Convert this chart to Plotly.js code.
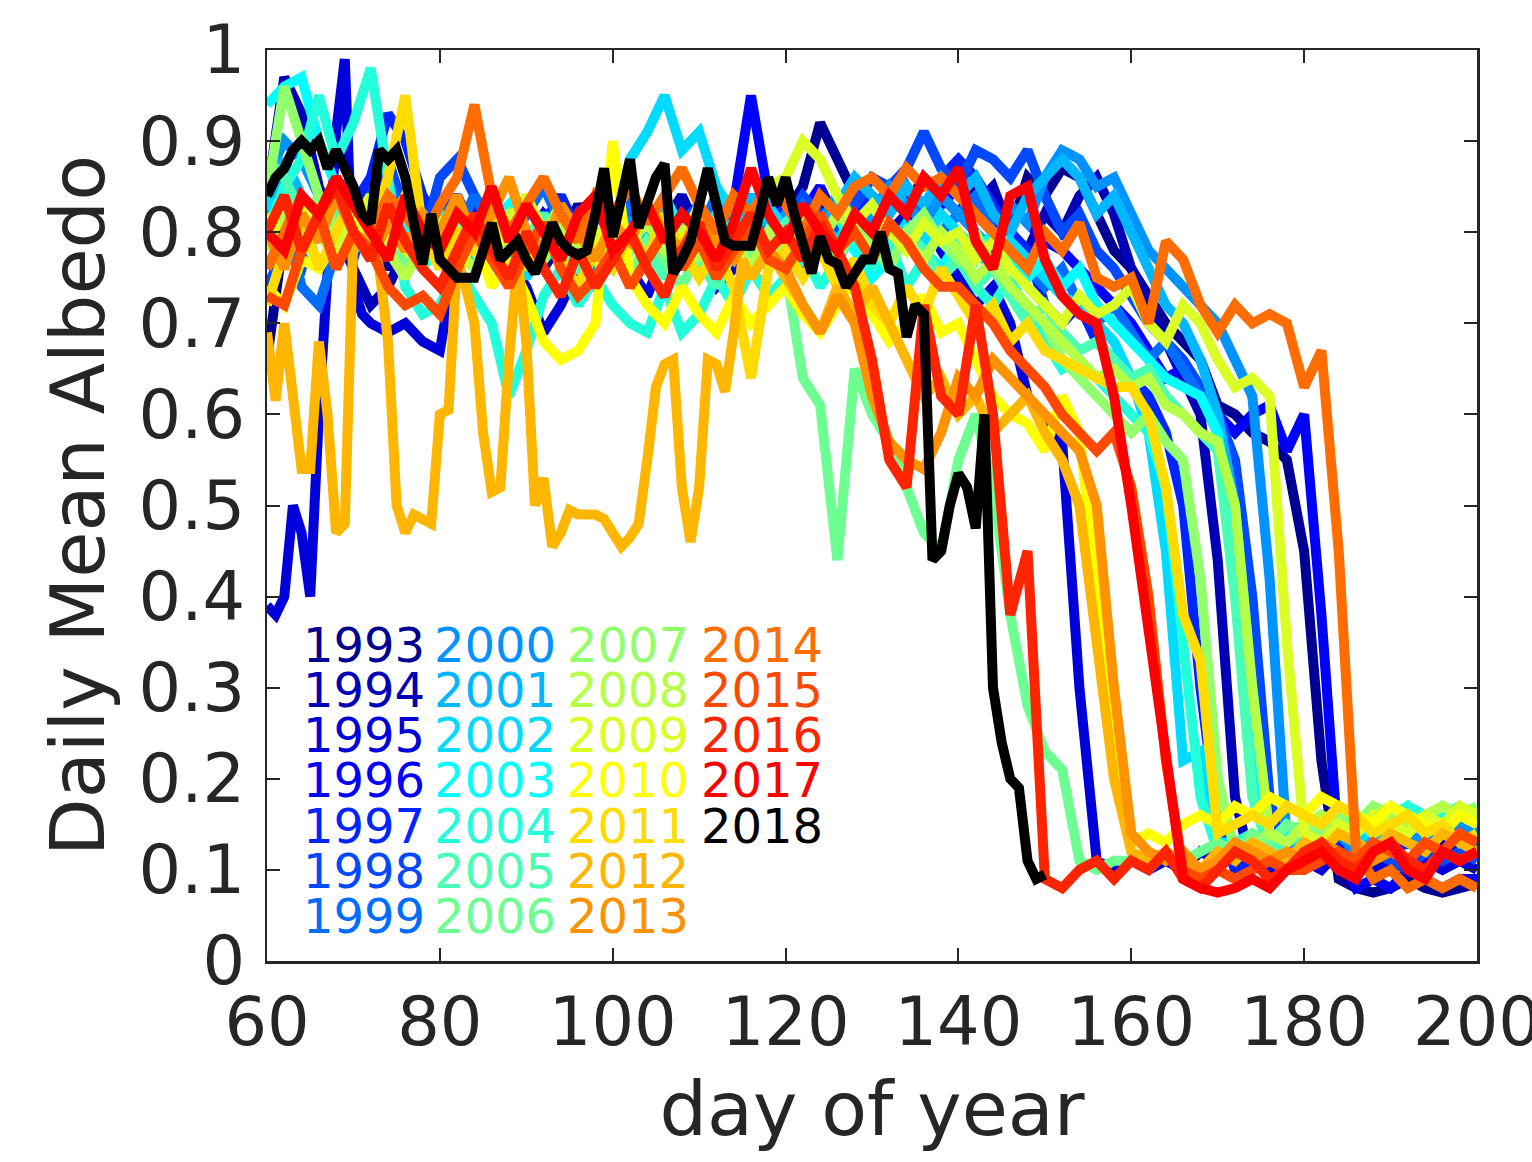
<!DOCTYPE html>
<html>
<head>
<meta charset="utf-8">
<script src="https://cdn.plot.ly/plotly-3.0.1.min.js"></script>
<style>
html,body{margin:0;padding:0;background:#fff;}
#chart{width:1532px;height:1162px;}
</style>
</head>
<body>
<div id="chart"></div>
<script>
// ---------- DATA ----------
const years = ["1993","1994","1995","1996","1997","1998","1999","2000","2001","2002","2003","2004","2005","2006","2007","2008","2009","2010","2011","2012","2013","2014","2015","2016","2017","2018"];

// common day grid (every 2 days)
const days = [60,62,64,66,68,70,72,74,76,78,80,82,84,86,88,90,92,94,96,98,100,102,104,106,108,110,112,114,116,118,120,122,124,126,128,130,132,134,136,138,140,142,144,146,148,150,152,154,156,158,160,162,164,166,168,170,172,174,176,178,180,182,184,186,188,190,192,194,196,198,200];

const y1993 = [0.66,0.80,0.84,0.80,0.78,0.83,0.80,0.76,0.79,0.82,0.80,0.84,0.79,0.82,0.78,0.80,0.76,0.79,0.83,0.80,0.78,0.82,0.79,0.80,0.77,0.81,0.79,0.82,0.80,0.83,0.82,0.85,0.92,0.88,0.84,0.82,0.85,0.83,0.86,0.84,0.82,0.85,0.83,0.80,0.86,0.84,0.87,0.86,0.82,0.78,0.76,0.73,0.70,0.68,0.66,0.61,0.60,0.58,0.57,0.55,0.45,0.22,0.09,0.08,0.075,0.08,0.09,0.08,0.075,0.08,0.085];
const y1994 = [0.84,0.97,0.93,0.85,0.80,0.76,0.72,0.74,0.78,0.81,0.78,0.82,0.80,0.77,0.83,0.79,0.81,0.78,0.80,0.76,0.79,0.82,0.78,0.81,0.84,0.80,0.78,0.82,0.79,0.81,0.78,0.80,0.83,0.79,0.81,0.78,0.80,0.82,0.79,0.84,0.86,0.83,0.85,0.80,0.78,0.82,0.80,0.84,0.86,0.82,0.76,0.72,0.68,0.64,0.60,0.44,0.18,0.10,0.11,0.12,0.11,0.13,0.12,0.11,0.13,0.12,0.11,0.12,0.13,0.12,0.12];
const days1995 = [60,61,62,63,64,65,66,67,68,69,70,71,72,74,76,78,80,82,84,86,88,90,92,94,96,98,100,102,104,106,108,110,112,114,116,118,120,122,124,126,128,130,132,134,136,138,140,142,144,146,148,150,152,154,156,158,160,162,164,166,168,170,172,174,176,178,180,182,184,186,188,190,192,194,196,198,200];
const y1995 = [0.39,0.38,0.40,0.50,0.47,0.40,0.60,0.78,0.91,0.99,0.74,0.71,0.70,0.69,0.70,0.68,0.67,0.78,0.83,0.80,0.77,0.74,0.69,0.72,0.76,0.74,0.79,0.76,0.73,0.78,0.81,0.77,0.74,0.76,0.79,0.83,0.80,0.77,0.80,0.83,0.80,0.78,0.81,0.79,0.82,0.78,0.75,0.72,0.74,0.70,0.62,0.59,0.57,0.30,0.11,0.10,0.11,0.10,0.11,0.10,0.12,0.11,0.12,0.11,0.10,0.12,0.11,0.10,0.12,0.11,0.10,0.11,0.10,0.11,0.10,0.11,0.10];
const y1996 = [0.76,0.80,0.84,0.79,0.82,0.78,0.80,0.83,0.79,0.76,0.80,0.83,0.78,0.81,0.77,0.79,0.82,0.80,0.76,0.79,0.81,0.78,0.80,0.83,0.79,0.82,0.80,0.83,0.95,0.84,0.80,0.82,0.85,0.81,0.83,0.80,0.84,0.82,0.80,0.83,0.85,0.82,0.80,0.83,0.81,0.79,0.78,0.76,0.74,0.72,0.70,0.67,0.64,0.65,0.62,0.60,0.58,0.60,0.61,0.56,0.60,0.38,0.12,0.08,0.09,0.08,0.10,0.09,0.08,0.09,0.09];
const y1997 = [0.80,0.82,0.78,0.84,0.80,0.83,0.86,0.93,0.90,0.84,0.81,0.84,0.80,0.78,0.82,0.79,0.81,0.84,0.80,0.78,0.82,0.79,0.81,0.78,0.80,0.83,0.79,0.81,0.84,0.80,0.83,0.80,0.82,0.79,0.81,0.84,0.82,0.85,0.82,0.86,0.88,0.86,0.83,0.80,0.78,0.72,0.70,0.72,0.68,0.66,0.64,0.62,0.58,0.50,0.30,0.15,0.10,0.11,0.12,0.11,0.12,0.11,0.13,0.12,0.11,0.12,0.13,0.12,0.11,0.12,0.12];
const y1998 = [0.74,0.78,0.76,0.82,0.80,0.77,0.84,0.88,0.82,0.79,0.86,0.88,0.84,0.80,0.83,0.79,0.81,0.78,0.82,0.80,0.79,0.82,0.80,0.77,0.81,0.83,0.80,0.78,0.82,0.80,0.81,0.84,0.82,0.80,0.83,0.86,0.85,0.87,0.91,0.87,0.85,0.89,0.88,0.86,0.89,0.84,0.80,0.82,0.78,0.76,0.73,0.70,0.68,0.66,0.63,0.60,0.55,0.40,0.18,0.10,0.11,0.12,0.10,0.11,0.12,0.11,0.10,0.12,0.11,0.12,0.11];
const y1999 = [0.80,0.82,0.74,0.72,0.78,0.82,0.80,0.85,0.82,0.79,0.83,0.80,0.84,0.81,0.78,0.82,0.85,0.81,0.79,0.82,0.80,0.83,0.81,0.79,0.82,0.80,0.84,0.81,0.79,0.82,0.80,0.83,0.81,0.84,0.82,0.80,0.83,0.85,0.82,0.80,0.82,0.84,0.80,0.78,0.76,0.74,0.76,0.72,0.70,0.72,0.69,0.66,0.68,0.65,0.62,0.58,0.45,0.20,0.11,0.12,0.13,0.12,0.11,0.13,0.12,0.14,0.13,0.12,0.14,0.13,0.13];
const y2000 = [0.86,0.90,0.88,0.84,0.80,0.82,0.79,0.83,0.80,0.77,0.80,0.82,0.79,0.76,0.81,0.78,0.80,0.83,0.79,0.76,0.78,0.81,0.79,0.82,0.80,0.77,0.81,0.79,0.82,0.80,0.82,0.79,0.81,0.84,0.80,0.82,0.85,0.83,0.81,0.84,0.82,0.80,0.78,0.83,0.81,0.86,0.89,0.88,0.85,0.86,0.82,0.78,0.76,0.74,0.72,0.70,0.66,0.62,0.42,0.13,0.12,0.13,0.14,0.12,0.13,0.15,0.14,0.13,0.14,0.15,0.14];
const y2001 = [0.82,0.88,0.84,0.80,0.77,0.80,0.83,0.79,0.76,0.80,0.78,0.81,0.79,0.83,0.80,0.77,0.80,0.78,0.82,0.79,0.81,0.78,0.80,0.83,0.81,0.79,0.82,0.80,0.84,0.81,0.79,0.82,0.80,0.83,0.86,0.84,0.82,0.85,0.83,0.86,0.84,0.86,0.82,0.80,0.84,0.86,0.88,0.86,0.82,0.84,0.80,0.76,0.72,0.70,0.66,0.60,0.50,0.30,0.12,0.13,0.14,0.13,0.15,0.14,0.13,0.15,0.16,0.14,0.15,0.16,0.15];
const y2002 = [0.84,0.80,0.78,0.82,0.85,0.80,0.77,0.81,0.78,0.80,0.82,0.79,0.76,0.80,0.78,0.75,0.79,0.82,0.80,0.77,0.80,0.88,0.91,0.95,0.89,0.91,0.85,0.82,0.80,0.83,0.80,0.78,0.81,0.79,0.82,0.80,0.78,0.81,0.79,0.82,0.80,0.78,0.76,0.79,0.77,0.75,0.73,0.72,0.70,0.68,0.64,0.58,0.45,0.22,0.23,0.13,0.13,0.12,0.13,0.14,0.13,0.15,0.14,0.13,0.15,0.14,0.16,0.15,0.14,0.16,0.15];
const y2003 = [0.94,0.96,0.97,0.90,0.85,0.82,0.80,0.78,0.81,0.79,0.82,0.80,0.78,0.81,0.83,0.80,0.77,0.79,0.81,0.84,0.82,0.79,0.81,0.84,0.80,0.78,0.82,0.79,0.81,0.78,0.80,0.77,0.79,0.82,0.78,0.75,0.77,0.80,0.78,0.76,0.79,0.77,0.80,0.78,0.75,0.77,0.74,0.76,0.72,0.70,0.68,0.66,0.64,0.63,0.62,0.58,0.45,0.22,0.13,0.14,0.15,0.14,0.16,0.15,0.14,0.16,0.17,0.15,0.16,0.17,0.16];
const y2004 = [0.80,0.85,0.88,0.95,0.88,0.92,0.98,0.86,0.74,0.71,0.72,0.76,0.73,0.70,0.62,0.67,0.73,0.76,0.72,0.75,0.72,0.70,0.69,0.74,0.69,0.71,0.75,0.72,0.76,0.73,0.75,0.78,0.74,0.77,0.80,0.76,0.79,0.74,0.77,0.75,0.78,0.74,0.72,0.75,0.71,0.68,0.65,0.66,0.64,0.62,0.60,0.58,0.52,0.35,0.18,0.12,0.13,0.14,0.13,0.15,0.14,0.16,0.15,0.14,0.16,0.15,0.17,0.16,0.15,0.16,0.16];
const y2005 = [0.88,0.86,0.82,0.79,0.83,0.80,0.77,0.81,0.78,0.76,0.79,0.77,0.80,0.78,0.75,0.79,0.82,0.78,0.76,0.79,0.77,0.80,0.78,0.75,0.79,0.77,0.74,0.78,0.76,0.79,0.81,0.78,0.80,0.77,0.82,0.79,0.76,0.80,0.78,0.75,0.77,0.74,0.76,0.73,0.70,0.72,0.69,0.67,0.68,0.66,0.64,0.65,0.62,0.60,0.58,0.56,0.40,0.18,0.12,0.13,0.14,0.15,0.14,0.16,0.15,0.14,0.16,0.15,0.17,0.16,0.16];
const y2006 = [0.82,0.78,0.80,0.84,0.81,0.78,0.82,0.79,0.76,0.80,0.78,0.81,0.79,0.76,0.80,0.77,0.79,0.82,0.78,0.80,0.78,0.75,0.79,0.77,0.74,0.78,0.76,0.79,0.77,0.80,0.76,0.64,0.61,0.44,0.65,0.60,0.57,0.52,0.47,0.45,0.55,0.60,0.52,0.38,0.28,0.23,0.21,0.11,0.10,0.11,0.11,0.10,0.12,0.11,0.12,0.13,0.12,0.14,0.13,0.15,0.14,0.16,0.15,0.14,0.16,0.15,0.14,0.16,0.15,0.16,0.15];
const y2007 = [0.84,0.96,0.90,0.84,0.80,0.78,0.82,0.79,0.83,0.80,0.77,0.80,0.78,0.82,0.79,0.76,0.80,0.83,0.79,0.77,0.80,0.78,0.82,0.79,0.76,0.80,0.78,0.81,0.79,0.77,0.79,0.82,0.80,0.77,0.81,0.79,0.76,0.80,0.82,0.79,0.77,0.80,0.76,0.74,0.72,0.70,0.66,0.64,0.62,0.60,0.58,0.60,0.57,0.55,0.42,0.20,0.12,0.13,0.14,0.13,0.15,0.14,0.16,0.15,0.17,0.16,0.15,0.16,0.17,0.16,0.17];
const y2008 = [0.78,0.82,0.80,0.76,0.79,0.83,0.80,0.78,0.75,0.79,0.81,0.78,0.76,0.80,0.82,0.79,0.77,0.81,0.78,0.80,0.76,0.79,0.81,0.78,0.80,0.77,0.81,0.79,0.76,0.80,0.78,0.81,0.79,0.82,0.80,0.78,0.81,0.79,0.77,0.80,0.78,0.75,0.77,0.74,0.72,0.70,0.68,0.66,0.64,0.65,0.63,0.64,0.61,0.60,0.58,0.57,0.50,0.30,0.14,0.13,0.15,0.16,0.15,0.14,0.16,0.17,0.15,0.16,0.17,0.16,0.16];
const y2009 = [0.82,0.79,0.83,0.80,0.77,0.81,0.84,0.80,0.78,0.82,0.79,0.82,0.80,0.77,0.81,0.84,0.80,0.78,0.81,0.79,0.82,0.80,0.77,0.81,0.79,0.83,0.80,0.78,0.82,0.85,0.86,0.90,0.88,0.84,0.81,0.83,0.80,0.78,0.81,0.79,0.80,0.77,0.79,0.76,0.74,0.72,0.70,0.73,0.71,0.72,0.74,0.70,0.68,0.72,0.70,0.66,0.63,0.64,0.62,0.35,0.14,0.13,0.15,0.14,0.16,0.15,0.14,0.16,0.15,0.17,0.16];
const y2010 = [0.74,0.72,0.77,0.76,0.80,0.84,0.78,0.80,0.84,0.82,0.78,0.75,0.80,0.74,0.77,0.73,0.68,0.66,0.67,0.70,0.90,0.75,0.72,0.70,0.74,0.71,0.69,0.73,0.70,0.72,0.74,0.71,0.69,0.72,0.75,0.71,0.68,0.70,0.73,0.69,0.70,0.66,0.62,0.60,0.59,0.56,0.62,0.58,0.40,0.22,0.13,0.14,0.13,0.15,0.16,0.15,0.17,0.16,0.18,0.17,0.16,0.18,0.17,0.16,0.15,0.17,0.16,0.15,0.14,0.16,0.15];
const y2011 = [0.72,0.78,0.82,0.76,0.80,0.84,0.80,0.86,0.95,0.80,0.76,0.80,0.78,0.82,0.79,0.76,0.80,0.77,0.74,0.78,0.76,0.80,0.77,0.82,0.78,0.75,0.78,0.74,0.64,0.76,0.78,0.75,0.78,0.74,0.77,0.72,0.70,0.74,0.71,0.76,0.73,0.70,0.72,0.68,0.70,0.67,0.66,0.65,0.64,0.63,0.63,0.60,0.52,0.38,0.33,0.14,0.15,0.16,0.15,0.17,0.16,0.15,0.17,0.16,0.14,0.15,0.16,0.14,0.15,0.13,0.14];
const days2012 = [60,61,62,63,64,65,66,67,68,69,70,71,72,73,74,75,76,77,78,79,80,81,82,83,84,85,86,87,88,89,90,91,92,93,94,95,96,97,98,99,100,101,102,103,104,105,106,107,108,109,110,111,112,113,114,115,116,118,120,122,124,126,128,130,132,134,136,138,140,142,144,146,148,150,152,154,156,158,160,162,164,166,168,170,172,174,176,178,180,182,184,186,188,190,192,194,196,198,200];
const y2012 = [0.69,0.615,0.70,0.62,0.54,0.54,0.68,0.60,0.47,0.48,0.80,0.79,0.80,0.76,0.68,0.50,0.47,0.49,0.485,0.48,0.60,0.605,0.77,0.74,0.70,0.58,0.515,0.52,0.66,0.77,0.68,0.50,0.53,0.455,0.47,0.495,0.49,0.49,0.49,0.485,0.47,0.455,0.465,0.48,0.55,0.63,0.655,0.66,0.52,0.46,0.52,0.66,0.655,0.625,0.69,0.77,0.75,0.78,0.75,0.72,0.69,0.74,0.71,0.74,0.70,0.66,0.62,0.64,0.60,0.62,0.58,0.60,0.62,0.58,0.55,0.50,0.35,0.20,0.12,0.11,0.12,0.11,0.10,0.12,0.11,0.13,0.12,0.11,0.13,0.12,0.14,0.13,0.12,0.14,0.13,0.12,0.14,0.13,0.12];
const y2013 = [0.80,0.76,0.82,0.79,0.84,0.80,0.77,0.81,0.78,0.82,0.80,0.84,0.79,0.82,0.86,0.80,0.78,0.83,0.80,0.77,0.81,0.79,0.83,0.80,0.78,0.82,0.79,0.77,0.80,0.78,0.76,0.72,0.69,0.73,0.70,0.62,0.57,0.55,0.54,0.58,0.64,0.62,0.66,0.64,0.62,0.60,0.58,0.56,0.50,0.30,0.14,0.12,0.11,0.12,0.10,0.11,0.13,0.12,0.11,0.12,0.11,0.13,0.12,0.10,0.11,0.12,0.11,0.13,0.12,0.11,0.12];
const y2014 = [0.76,0.80,0.84,0.82,0.86,0.83,0.80,0.84,0.82,0.79,0.83,0.86,0.94,0.84,0.80,0.83,0.86,0.82,0.79,0.84,0.82,0.85,0.81,0.84,0.87,0.83,0.80,0.84,0.82,0.85,0.83,0.80,0.84,0.82,0.85,0.86,0.84,0.87,0.85,0.86,0.84,0.82,0.80,0.78,0.76,0.80,0.78,0.81,0.75,0.74,0.75,0.70,0.79,0.77,0.72,0.69,0.72,0.70,0.71,0.70,0.63,0.67,0.45,0.12,0.09,0.10,0.08,0.09,0.08,0.09,0.08];
const y2015 = [0.73,0.72,0.78,0.82,0.76,0.80,0.78,0.74,0.72,0.73,0.71,0.76,0.80,0.77,0.74,0.78,0.81,0.76,0.73,0.75,0.78,0.74,0.77,0.80,0.76,0.79,0.75,0.78,0.81,0.77,0.76,0.79,0.82,0.78,0.80,0.77,0.81,0.79,0.76,0.74,0.74,0.72,0.70,0.67,0.65,0.63,0.60,0.58,0.56,0.58,0.52,0.40,0.22,0.10,0.09,0.10,0.09,0.10,0.11,0.10,0.10,0.11,0.12,0.11,0.13,0.12,0.11,0.13,0.12,0.14,0.13];
const y2016 = [0.80,0.84,0.78,0.82,0.85,0.80,0.77,0.83,0.79,0.76,0.74,0.78,0.82,0.78,0.75,0.80,0.76,0.73,0.78,0.74,0.77,0.80,0.76,0.73,0.78,0.81,0.76,0.79,0.82,0.78,0.80,0.77,0.81,0.78,0.74,0.66,0.55,0.52,0.72,0.62,0.60,0.72,0.60,0.38,0.45,0.09,0.08,0.10,0.11,0.09,0.11,0.10,0.12,0.09,0.08,0.10,0.12,0.11,0.09,0.10,0.12,0.13,0.11,0.10,0.12,0.13,0.11,0.10,0.12,0.11,0.12];
const y2017 = [0.80,0.78,0.84,0.82,0.86,0.83,0.80,0.77,0.84,0.80,0.78,0.82,0.80,0.85,0.79,0.83,0.80,0.77,0.82,0.84,0.78,0.80,0.83,0.79,0.82,0.80,0.77,0.81,0.87,0.82,0.79,0.83,0.80,0.78,0.82,0.80,0.84,0.82,0.86,0.84,0.87,0.79,0.76,0.84,0.85,0.77,0.73,0.71,0.70,0.62,0.50,0.36,0.22,0.09,0.08,0.075,0.08,0.09,0.08,0.10,0.11,0.12,0.10,0.09,0.12,0.13,0.10,0.09,0.12,0.11,0.12];
const days2018 = [60,61,62,63,64,65,66,67,68,69,70,71,72,73,74,75,76,77,78,79,80,81,82,83,84,85,86,87,88,89,90,91,92,93,94,95,96,97,98,99,100,101,102,103,104,105,106,107,108,109,110,111,112,113,114,115,116,117,118,119,120,121,122,123,124,125,126,127,128,129,130,131,132,133,134,135,136,137,138,139,140,141,142,143,144,145,146,147,148,149,150];
const y2018 = [0.84,0.86,0.87,0.89,0.90,0.89,0.90,0.87,0.89,0.87,0.85,0.82,0.81,0.89,0.88,0.89,0.86,0.81,0.765,0.82,0.77,0.76,0.75,0.75,0.75,0.78,0.81,0.77,0.78,0.79,0.77,0.755,0.78,0.81,0.79,0.78,0.775,0.78,0.82,0.87,0.795,0.84,0.88,0.805,0.83,0.86,0.875,0.755,0.77,0.79,0.83,0.87,0.83,0.79,0.785,0.785,0.785,0.82,0.86,0.83,0.86,0.82,0.79,0.755,0.795,0.77,0.765,0.74,0.755,0.77,0.77,0.80,0.76,0.755,0.685,0.72,0.71,0.44,0.45,0.50,0.535,0.52,0.475,0.60,0.30,0.24,0.20,0.19,0.11,0.09,0.095];

// ---------- STYLE ----------
const colors = ["rgb(0,0,146)","rgb(0,0,182)","rgb(0,0,219)","rgb(0,0,255)","rgb(0,36,255)","rgb(0,73,255)","rgb(0,109,255)","rgb(0,146,255)","rgb(0,182,255)","rgb(0,219,255)","rgb(0,255,255)","rgb(36,255,219)","rgb(73,255,182)","rgb(109,255,146)","rgb(146,255,109)","rgb(182,255,73)","rgb(219,255,36)","rgb(255,255,0)","rgb(255,219,0)","rgb(255,182,0)","rgb(255,146,0)","rgb(255,109,0)","rgb(255,73,0)","rgb(255,36,0)","rgb(255,0,0)","rgb(0,0,0)"];

const seriesX = [days,days,days1995,days,days,days,days,days,days,days,days,days,days,days,days,days,days,days,days,days2012,days,days,days,days,days,days2018];
const seriesY = [y1993,y1994,y1995,y1996,y1997,y1998,y1999,y2000,y2001,y2002,y2003,y2004,y2005,y2006,y2007,y2008,y2009,y2010,y2011,y2012,y2013,y2014,y2015,y2016,y2017,y2018];

const traces = years.map((yr,i)=>({
  type:'scatter', mode:'lines', name:yr,
  x: seriesX[i], y: seriesY[i],
  line:{color:colors[i], width:10},
  showlegend:false, hoverinfo:'x+y+name'
}));

const font = 'DejaVu Sans, sans-serif';
const dark = '#262626';

// in-plot year labels (4 columns x 7 rows)
const colX = [64.05, 79.2, 94.6, 110.1];
const rowY0 = 0.347, rowStep = 0.0496;
const annotations = years.map((yr,i)=>({
  xref:'x', yref:'y',
  x: colX[Math.floor(i/7)], y: rowY0 - (i%7)*rowStep,
  text: yr, showarrow:false, xanchor:'left', yanchor:'middle',
  borderpad:0,
  font:{family:font, size:48, color:colors[i]}
}));

const layout = {
  width:1532, height:1162,
  margin:{l:267, r:55, t:50, b:201},
  paper_bgcolor:'#ffffff', plot_bgcolor:'#ffffff',
  font:{family:font, color:dark},
  showlegend:false,
  xaxis:{
    range:[60,200], tickvals:[60,80,100,120,140,160,180,200],
    ticks:'inside', ticklen:13, tickwidth:2, tickcolor:dark,
    showline:true, linecolor:dark, linewidth:2.5, mirror:'ticks',
    showgrid:false, zeroline:false,
    tickfont:{family:font, size:67, color:dark},
    ticklabelstandoff:1, ticklabeloverflow:'allow',
    title:{text:'day of year', font:{family:font, size:75, color:dark}, standoff:23}
  },
  yaxis:{
    range:[0,1], tickvals:[0,0.1,0.2,0.3,0.4,0.5,0.6,0.7,0.8,0.9,1],
    ticktext:['0','0.1','0.2','0.3','0.4','0.5','0.6','0.7','0.8','0.9','1'],
    ticks:'inside', ticklen:13, tickwidth:2, tickcolor:dark,
    showline:true, linecolor:dark, linewidth:2.5, mirror:'ticks',
    showgrid:false, zeroline:false,
    tickfont:{family:font, size:67, color:dark},
    ticklabelstandoff:6, ticklabeloverflow:'allow',
    title:{text:'Daily Mean Albedo', font:{family:font, size:75, color:dark}, standoff:10}
  },
  annotations: annotations
};

Plotly.newPlot('chart', traces, layout, {displayModeBar:false, staticPlot:true});
</script>
</body>
</html>
